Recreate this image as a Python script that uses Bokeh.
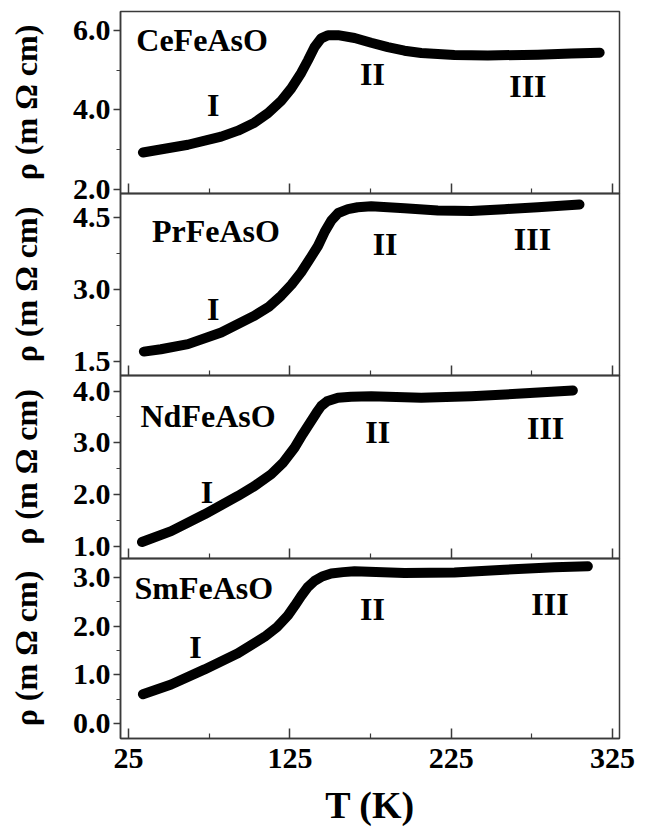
from bokeh.plotting import figure
from bokeh.layouts import column
from bokeh.models import FixedTicker, SingleIntervalTicker, PrintfTickFormatter, Range1d
from bokeh.core.properties import value
from bokeh.embed import file_html
from bokeh.resources import INLINE

# ---------------- data ----------------
T_ce = [33.9, 41.1, 61.8, 82.4, 92.8, 103, 111.4, 119.6, 125.8, 132, 136.2, 140.3, 144.4, 148.6, 154.8, 165.1, 175.4, 185.7, 196, 206.4, 227, 247.7, 278.7, 299.4, 317]
rho_ce = [2.93, 2.98, 3.125, 3.33, 3.48, 3.68, 3.92, 4.23, 4.54, 4.93, 5.25, 5.58, 5.80, 5.88, 5.88, 5.81, 5.69, 5.58, 5.49, 5.43, 5.38, 5.37, 5.39, 5.42, 5.44]

T_pr = [34.5, 45, 61.8, 82.4, 103, 112, 119.6, 126, 132, 137, 142.4, 146.5, 150.6, 155, 161, 167, 175.4, 196, 216.7, 237.4, 258, 278.7, 304.5]
rho_pr = [1.70, 1.75, 1.856, 2.10, 2.45, 2.64, 2.87, 3.10, 3.36, 3.62, 3.91, 4.20, 4.44, 4.60, 4.68, 4.72, 4.74, 4.70, 4.65, 4.64, 4.68, 4.72, 4.78]

T_nd = [33.3, 51.4, 72.1, 92.8, 103, 113.4, 121, 127.9, 133, 138.2, 141.5, 144.4, 148, 154.8, 163, 175.4, 206.4, 237.4, 268.4, 300.4]
rho_nd = [1.08, 1.29, 1.615, 1.97, 2.16, 2.39, 2.62, 2.905, 3.17, 3.42, 3.58, 3.71, 3.80, 3.87, 3.89, 3.90, 3.87, 3.90, 3.95, 4.01]

T_sm = [33.9, 51.4, 72.1, 92.8, 109.3, 117, 123.8, 128, 132, 136, 140.3, 145, 150.6, 158, 165.1, 196, 227, 258, 289, 309.7]
rho_sm = [0.60, 0.80, 1.11, 1.44, 1.78, 1.98, 2.22, 2.42, 2.62, 2.80, 2.93, 3.02, 3.08, 3.11, 3.13, 3.09, 3.10, 3.16, 3.21, 3.23]

compounds = ["CeFeAsO", "PrFeAsO", "NdFeAsO", "SmFeAsO"]
regions = ["I", "II", "III"]

# annotation anchors in data units (T, rho)
name_T = [29.8, 39.5, 32.4, 28.7]
name_rho = [5.75, 4.23, 3.52, 2.79]
region_T = [[77.5, 176.2, 272.5], [77.5, 184.0, 275.4], [73.6, 179.5, 283.5], [66.5, 176.2, 286.2]]
region_rho = [[4.125, 4.90, 4.60], [2.59, 3.95, 4.05], [2.05, 3.20, 3.29], [1.58, 2.35, 2.45]]

y_ranges = [(1.9, 6.475), (1.2, 5.008), (0.76, 4.30), (-0.31, 3.39)]
y_intervals = [2.0, 1.5, 1.0, 1.0]
x_major = [25, 125, 225, 325]
x_minor = [75, 175, 275]

series = [(T_ce, rho_ce), (T_pr, rho_pr), (T_nd, rho_nd), (T_sm, rho_sm)]

FONT = "Liberation Serif"
FONT_AX = "'Liberation Serif', serif"
FRAME = "#3a3a3a"

frame_h = [182, 182, 183, 183]
OVER = 14
figs = []
for i in range(4):
    last = (i == 3)
    top = 11 if i == 0 else OVER
    bottom = 87 if last else OVER
    p = figure(width=648, height=top + frame_h[i] + bottom, output_backend="svg", toolbar_location=None,
               x_range=Range1d(20.0, 329.3), y_range=Range1d(*y_ranges[i]),
               min_border_left=120, min_border_right=29,
               min_border_top=top, min_border_bottom=bottom,
               background_fill_alpha=0, border_fill_alpha=0,
               margin=(0, 0, 0, 0) if i == 0 else (-2 * OVER, 0, 0, 0))
    p.grid.visible = False
    p.outline_line_color = FRAME
    p.outline_line_width = 1.5

    # y axis
    ya = p.yaxis[0]
    ya.ticker = SingleIntervalTicker(interval=y_intervals[i], num_minor_ticks=2)
    ya.formatter = PrintfTickFormatter(format="%.1f")
    ya.major_tick_in = 0
    ya.major_tick_out = 7
    ya.minor_tick_in = 0
    ya.minor_tick_out = 4
    ya.axis_line_color = FRAME
    ya.axis_line_width = 1.5
    ya.major_tick_line_color = FRAME
    ya.minor_tick_line_color = FRAME
    ya.major_tick_line_width = 1.5
    ya.minor_tick_line_width = 1.2
    ya.major_label_text_font = FONT_AX
    ya.major_label_text_font_style = "bold"
    ya.major_label_text_font_size = "30px"
    ya.major_label_text_color = "black"
    ya.major_label_standoff = 3
    ya.axis_label = "ρ (m Ω cm)"
    ya.axis_label_text_font = FONT_AX
    ya.axis_label_text_font_style = "bold"
    ya.axis_label_text_font_size = "32px"
    ya.axis_label_text_color = "black"
    ya.axis_label_standoff = 26

    # x axis
    xa = p.xaxis[0]
    xa.ticker = FixedTicker(ticks=x_major, minor_ticks=x_minor)
    xa.major_tick_in = 10
    xa.major_tick_out = 0
    xa.minor_tick_in = 5
    xa.minor_tick_out = 0
    xa.axis_line_color = FRAME
    xa.axis_line_width = 1.5
    xa.major_tick_line_color = FRAME
    xa.minor_tick_line_color = FRAME
    xa.major_tick_line_width = 1.5
    xa.minor_tick_line_width = 1.2
    if last:
        xa.major_label_text_font = FONT_AX
        xa.major_label_text_font_style = "bold"
        xa.major_label_text_font_size = "30px"
        xa.major_label_text_color = "black"
        xa.major_label_standoff = 10
        xa.axis_label = "T (K)"
        xa.axis_label_text_font = FONT_AX
        xa.axis_label_text_font_style = "bold"
        xa.axis_label_text_font_size = "38px"
        xa.axis_label_text_color = "black"
        xa.axis_label_standoff = 13
    else:
        xa.major_label_text_font_size = "1px"
        xa.major_label_text_color = None
        xa.major_label_standoff = 0
        xa.axis_label = None

    T, rho = series[i]
    p.line(T, rho, line_width=10, line_color="black", line_cap="round", line_join="round")

    p.text(x=[name_T[i]], y=[name_rho[i]], text=[compounds[i]],
           text_font=value(FONT), text_font_style="bold", text_font_size="32px",
           text_align="left", text_baseline="middle", text_color="black")
    p.text(x=region_T[i], y=region_rho[i], text=regions,
           text_font=value(FONT), text_font_style="bold", text_font_size="32px",
           text_align="center", text_baseline="middle", text_color="black")
    figs.append(p)

layout = column(*figs, spacing=0, background="white")
open("out.html", "w").write(file_html(layout, INLINE))
